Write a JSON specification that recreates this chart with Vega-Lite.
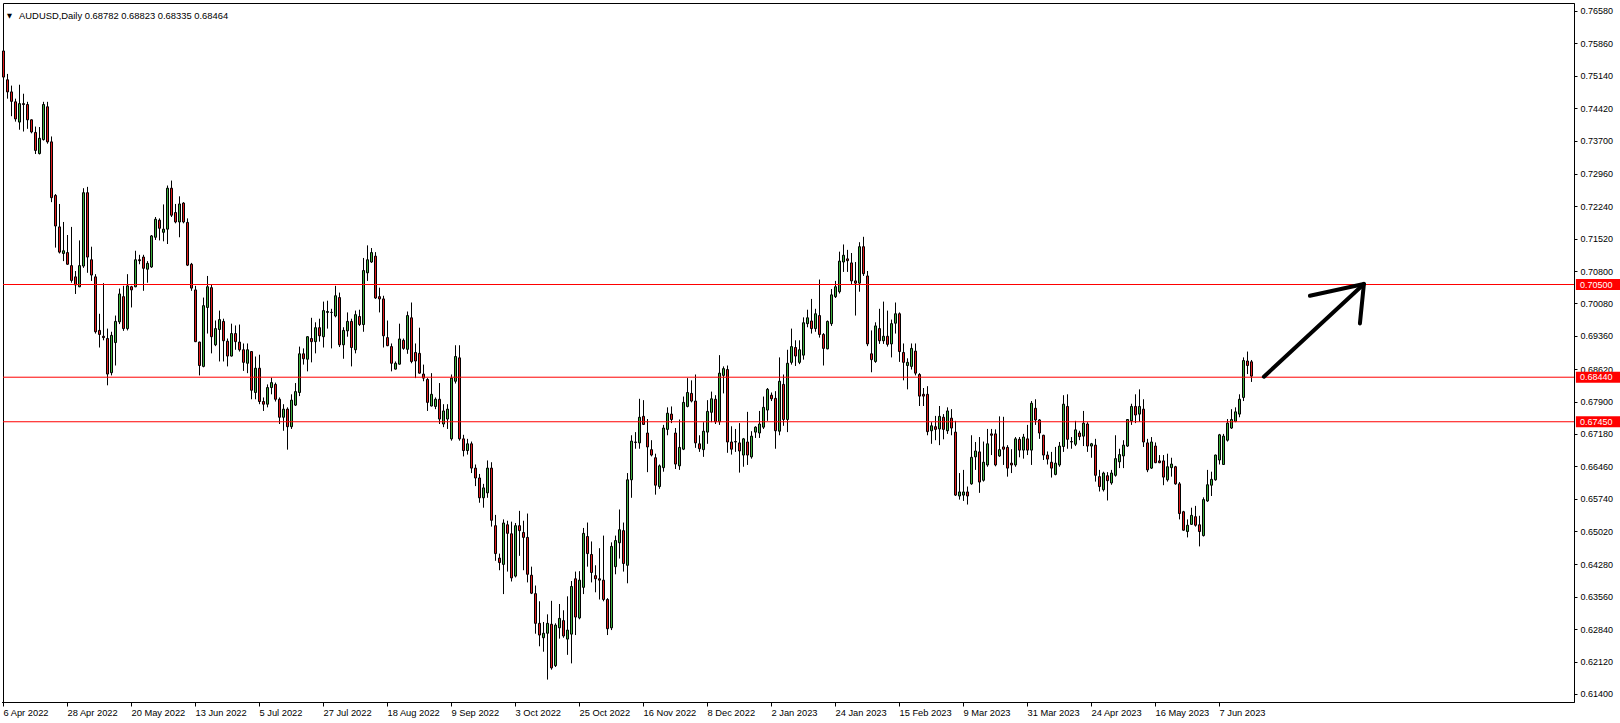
{
"$schema": "https://vega.github.io/schema/vega-lite/v6.json",
"width": 1571,
"height": 699,
"autosize": {"type": "none"},
"padding": {"left": 3, "top": 3, "right": 46, "bottom": 21},
"background": "white",
"config": {"view": {"stroke": "black", "strokeWidth": 1}, "font": "Liberation Sans", "axis": {"labelOverlap": false}, "axisY": {"labelOverlap": false, "labelFont": "Liberation Sans", "labelFontSize": 9, "labelColor": "black", "tickColor": "black", "domainColor": "black", "tickSize": 3, "labelPadding": 3, "grid": false, "labelBaseline": "middle", "labelFlush": false}},
"data": {"values": [
{"d":"2022-04-06","o":0.7569,"h":0.7592,"l":0.7485,"c":0.7511},
{"d":"2022-04-07","o":0.7505,"h":0.7518,"l":0.7463,"c":0.7478},
{"d":"2022-04-08","o":0.7478,"h":0.7492,"l":0.7424,"c":0.7457},
{"d":"2022-04-11","o":0.7456,"h":0.7463,"l":0.7412,"c":0.7418},
{"d":"2022-04-12","o":0.7411,"h":0.7494,"l":0.7394,"c":0.7452},
{"d":"2022-04-13","o":0.7452,"h":0.7474,"l":0.7390,"c":0.7450},
{"d":"2022-04-14","o":0.7450,"h":0.7456,"l":0.7396,"c":0.7416},
{"d":"2022-04-15","o":0.7416,"h":0.7417,"l":0.7386,"c":0.7389},
{"d":"2022-04-18","o":0.7388,"h":0.7401,"l":0.7340,"c":0.7348},
{"d":"2022-04-19","o":0.7341,"h":0.7400,"l":0.7339,"c":0.7375},
{"d":"2022-04-20","o":0.7372,"h":0.7456,"l":0.7370,"c":0.7450},
{"d":"2022-04-21","o":0.7445,"h":0.7456,"l":0.7363,"c":0.7367},
{"d":"2022-04-22","o":0.7367,"h":0.7379,"l":0.7233,"c":0.7243},
{"d":"2022-04-25","o":0.7248,"h":0.7251,"l":0.7132,"c":0.7180},
{"d":"2022-04-26","o":0.7178,"h":0.7229,"l":0.7119,"c":0.7122},
{"d":"2022-04-27","o":0.7119,"h":0.7189,"l":0.7102,"c":0.7125},
{"d":"2022-04-28","o":0.7121,"h":0.7160,"l":0.7094,"c":0.7095},
{"d":"2022-04-29","o":0.7092,"h":0.7178,"l":0.7054,"c":0.7059},
{"d":"2022-05-02","o":0.7067,"h":0.7080,"l":0.7029,"c":0.7049},
{"d":"2022-05-03","o":0.7045,"h":0.7148,"l":0.7044,"c":0.7092},
{"d":"2022-05-04","o":0.7091,"h":0.7264,"l":0.7087,"c":0.7254},
{"d":"2022-05-05","o":0.7254,"h":0.7267,"l":0.7076,"c":0.7111},
{"d":"2022-05-06","o":0.7105,"h":0.7134,"l":0.7058,"c":0.7071},
{"d":"2022-05-09","o":0.7067,"h":0.7073,"l":0.6941,"c":0.6945},
{"d":"2022-05-10","o":0.6948,"h":0.6985,"l":0.6910,"c":0.6939},
{"d":"2022-05-11","o":0.6935,"h":0.7053,"l":0.6926,"c":0.6932},
{"d":"2022-05-12","o":0.6930,"h":0.6952,"l":0.6826,"c":0.6851},
{"d":"2022-05-13","o":0.6854,"h":0.6945,"l":0.6848,"c":0.6937},
{"d":"2022-05-16","o":0.6921,"h":0.6981,"l":0.6870,"c":0.6968},
{"d":"2022-05-17","o":0.6967,"h":0.7041,"l":0.6962,"c":0.7029},
{"d":"2022-05-18","o":0.7023,"h":0.7047,"l":0.6947,"c":0.6952},
{"d":"2022-05-19","o":0.6952,"h":0.7073,"l":0.6948,"c":0.7047},
{"d":"2022-05-20","o":0.7045,"h":0.7047,"l":0.6999,"c":0.7038},
{"d":"2022-05-23","o":0.7045,"h":0.7125,"l":0.7044,"c":0.7105},
{"d":"2022-05-24","o":0.7105,"h":0.7116,"l":0.7095,"c":0.7103},
{"d":"2022-05-25","o":0.7111,"h":0.7116,"l":0.7036,"c":0.7086},
{"d":"2022-05-26","o":0.7084,"h":0.7102,"l":0.7054,"c":0.7097},
{"d":"2022-05-27","o":0.7089,"h":0.7160,"l":0.7087,"c":0.7158},
{"d":"2022-05-30","o":0.7155,"h":0.7200,"l":0.7149,"c":0.7195},
{"d":"2022-05-31","o":0.7193,"h":0.7197,"l":0.7148,"c":0.7175},
{"d":"2022-06-01","o":0.7166,"h":0.7228,"l":0.7146,"c":0.7173},
{"d":"2022-06-02","o":0.7173,"h":0.7270,"l":0.7140,"c":0.7264},
{"d":"2022-06-03","o":0.7264,"h":0.7281,"l":0.7200,"c":0.7204},
{"d":"2022-06-06","o":0.7210,"h":0.7229,"l":0.7186,"c":0.7189},
{"d":"2022-06-07","o":0.7189,"h":0.7246,"l":0.7155,"c":0.7229},
{"d":"2022-06-08","o":0.7231,"h":0.7233,"l":0.7186,"c":0.7189},
{"d":"2022-06-09","o":0.7188,"h":0.7197,"l":0.7091,"c":0.7093},
{"d":"2022-06-10","o":0.7095,"h":0.7098,"l":0.7036,"c":0.7042},
{"d":"2022-06-13","o":0.7038,"h":0.7047,"l":0.6922,"c":0.6923},
{"d":"2022-06-14","o":0.6922,"h":0.6923,"l":0.6848,"c":0.6870},
{"d":"2022-06-15","o":0.6868,"h":0.7021,"l":0.6866,"c":0.7003},
{"d":"2022-06-16","o":0.6999,"h":0.7069,"l":0.6941,"c":0.7045},
{"d":"2022-06-17","o":0.7043,"h":0.7051,"l":0.6897,"c":0.6934},
{"d":"2022-06-20","o":0.6916,"h":0.6970,"l":0.6913,"c":0.6952},
{"d":"2022-06-21","o":0.6950,"h":0.6992,"l":0.6879,"c":0.6972},
{"d":"2022-06-22","o":0.6968,"h":0.6974,"l":0.6879,"c":0.6925},
{"d":"2022-06-23","o":0.6924,"h":0.6930,"l":0.6868,"c":0.6891},
{"d":"2022-06-24","o":0.6891,"h":0.6963,"l":0.6890,"c":0.6941},
{"d":"2022-06-27","o":0.6941,"h":0.6959,"l":0.6905,"c":0.6923},
{"d":"2022-06-28","o":0.6922,"h":0.6961,"l":0.6901,"c":0.6905},
{"d":"2022-06-29","o":0.6905,"h":0.6919,"l":0.6858,"c":0.6877},
{"d":"2022-06-30","o":0.6875,"h":0.6919,"l":0.6853,"c":0.6905},
{"d":"2022-07-01","o":0.6901,"h":0.6902,"l":0.6795,"c":0.6815},
{"d":"2022-07-04","o":0.6810,"h":0.6890,"l":0.6795,"c":0.6864},
{"d":"2022-07-05","o":0.6864,"h":0.6894,"l":0.6784,"c":0.6790},
{"d":"2022-07-06","o":0.6790,"h":0.6799,"l":0.6769,"c":0.6784},
{"d":"2022-07-07","o":0.6784,"h":0.6828,"l":0.6777,"c":0.6821},
{"d":"2022-07-08","o":0.6821,"h":0.6843,"l":0.6806,"c":0.6832},
{"d":"2022-07-11","o":0.6828,"h":0.6832,"l":0.6790,"c":0.6795},
{"d":"2022-07-12","o":0.6795,"h":0.6799,"l":0.6740,"c":0.6755},
{"d":"2022-07-13","o":0.6755,"h":0.6784,"l":0.6725,"c":0.6773},
{"d":"2022-07-14","o":0.6773,"h":0.6777,"l":0.6683,"c":0.6734},
{"d":"2022-07-15","o":0.6734,"h":0.6806,"l":0.6729,"c":0.6793},
{"d":"2022-07-18","o":0.6782,"h":0.6831,"l":0.6780,"c":0.6812},
{"d":"2022-07-19","o":0.6810,"h":0.6912,"l":0.6802,"c":0.6896},
{"d":"2022-07-20","o":0.6896,"h":0.6908,"l":0.6872,"c":0.6885},
{"d":"2022-07-21","o":0.6884,"h":0.6935,"l":0.6857,"c":0.6934},
{"d":"2022-07-22","o":0.6930,"h":0.6976,"l":0.6877,"c":0.6923},
{"d":"2022-07-25","o":0.6923,"h":0.6966,"l":0.6897,"c":0.6954},
{"d":"2022-07-26","o":0.6954,"h":0.6974,"l":0.6923,"c":0.6936},
{"d":"2022-07-27","o":0.6934,"h":0.7012,"l":0.6910,"c":0.6992},
{"d":"2022-07-28","o":0.6988,"h":0.7014,"l":0.6952,"c":0.6990},
{"d":"2022-07-29","o":0.6988,"h":0.6996,"l":0.6908,"c":0.6988},
{"d":"2022-08-01","o":0.6980,"h":0.7047,"l":0.6977,"c":0.7025},
{"d":"2022-08-02","o":0.7021,"h":0.7032,"l":0.6911,"c":0.6916},
{"d":"2022-08-03","o":0.6916,"h":0.6955,"l":0.6885,"c":0.6948},
{"d":"2022-08-04","o":0.6947,"h":0.6988,"l":0.6934,"c":0.6968},
{"d":"2022-08-05","o":0.6968,"h":0.6974,"l":0.6868,"c":0.6910},
{"d":"2022-08-08","o":0.6905,"h":0.6992,"l":0.6897,"c":0.6983},
{"d":"2022-08-09","o":0.6979,"h":0.6994,"l":0.6958,"c":0.6961},
{"d":"2022-08-10","o":0.6961,"h":0.7109,"l":0.6945,"c":0.7081},
{"d":"2022-08-11","o":0.7076,"h":0.7137,"l":0.7058,"c":0.7105},
{"d":"2022-08-12","o":0.7100,"h":0.7131,"l":0.7098,"c":0.7121},
{"d":"2022-08-15","o":0.7113,"h":0.7122,"l":0.7018,"c":0.7020},
{"d":"2022-08-16","o":0.7023,"h":0.7043,"l":0.6988,"c":0.7018},
{"d":"2022-08-17","o":0.7018,"h":0.7025,"l":0.6910,"c":0.6936},
{"d":"2022-08-18","o":0.6932,"h":0.6970,"l":0.6913,"c":0.6914},
{"d":"2022-08-19","o":0.6912,"h":0.6919,"l":0.6857,"c":0.6875},
{"d":"2022-08-22","o":0.6862,"h":0.6879,"l":0.6861,"c":0.6875},
{"d":"2022-08-23","o":0.6873,"h":0.6963,"l":0.6872,"c":0.6929},
{"d":"2022-08-24","o":0.6926,"h":0.6930,"l":0.6905,"c":0.6908},
{"d":"2022-08-25","o":0.6906,"h":0.6990,"l":0.6896,"c":0.6981},
{"d":"2022-08-26","o":0.6976,"h":0.7010,"l":0.6875,"c":0.6879},
{"d":"2022-08-29","o":0.6899,"h":0.6919,"l":0.6842,"c":0.6880},
{"d":"2022-08-30","o":0.6897,"h":0.6954,"l":0.6852,"c":0.6853},
{"d":"2022-08-31","o":0.6851,"h":0.6872,"l":0.6835,"c":0.6842},
{"d":"2022-09-01","o":0.6839,"h":0.6842,"l":0.6769,"c":0.6788},
{"d":"2022-09-02","o":0.6780,"h":0.6853,"l":0.6779,"c":0.6806},
{"d":"2022-09-05","o":0.6779,"h":0.6799,"l":0.6773,"c":0.6795},
{"d":"2022-09-06","o":0.6795,"h":0.6831,"l":0.6740,"c":0.6751},
{"d":"2022-09-07","o":0.6740,"h":0.6784,"l":0.6733,"c":0.6769},
{"d":"2022-09-08","o":0.6751,"h":0.6784,"l":0.6729,"c":0.6773},
{"d":"2022-09-09","o":0.6707,"h":0.6850,"l":0.6703,"c":0.6842},
{"d":"2022-09-12","o":0.6835,"h":0.6915,"l":0.6830,"c":0.6890},
{"d":"2022-09-13","o":0.6887,"h":0.6915,"l":0.6703,"c":0.6707},
{"d":"2022-09-14","o":0.6707,"h":0.6716,"l":0.6668,"c":0.6681},
{"d":"2022-09-15","o":0.6681,"h":0.6707,"l":0.6672,"c":0.6696},
{"d":"2022-09-16","o":0.6696,"h":0.6701,"l":0.6631,"c":0.6642},
{"d":"2022-09-19","o":0.6642,"h":0.6650,"l":0.6602,"c":0.6620},
{"d":"2022-09-20","o":0.6620,"h":0.6629,"l":0.6565,"c":0.6576},
{"d":"2022-09-21","o":0.6576,"h":0.6607,"l":0.6554,"c":0.6598},
{"d":"2022-09-22","o":0.6587,"h":0.6659,"l":0.6576,"c":0.6642},
{"d":"2022-09-23","o":0.6642,"h":0.6655,"l":0.6512,"c":0.6526},
{"d":"2022-09-26","o":0.6514,"h":0.6538,"l":0.6436,"c":0.6452},
{"d":"2022-09-27","o":0.6442,"h":0.6452,"l":0.6415,"c":0.6432},
{"d":"2022-09-28","o":0.6428,"h":0.6528,"l":0.6362,"c":0.6520},
{"d":"2022-09-29","o":0.6516,"h":0.6525,"l":0.6412,"c":0.6497},
{"d":"2022-09-30","o":0.6496,"h":0.6523,"l":0.6390,"c":0.6398},
{"d":"2022-10-03","o":0.6402,"h":0.6520,"l":0.6399,"c":0.6514},
{"d":"2022-10-04","o":0.6514,"h":0.6547,"l":0.6447,"c":0.6503},
{"d":"2022-10-05","o":0.6499,"h":0.6525,"l":0.6415,"c":0.6488},
{"d":"2022-10-06","o":0.6488,"h":0.6541,"l":0.6388,"c":0.6406},
{"d":"2022-10-07","o":0.6404,"h":0.6423,"l":0.6362,"c":0.6364},
{"d":"2022-10-10","o":0.6363,"h":0.6381,"l":0.6274,"c":0.6297},
{"d":"2022-10-11","o":0.6297,"h":0.6346,"l":0.6246,"c":0.6271},
{"d":"2022-10-12","o":0.6265,"h":0.6300,"l":0.6234,"c":0.6275},
{"d":"2022-10-13","o":0.6275,"h":0.6317,"l":0.6172,"c":0.6297},
{"d":"2022-10-14","o":0.6295,"h":0.6347,"l":0.6194,"c":0.6198},
{"d":"2022-10-17","o":0.6203,"h":0.6297,"l":0.6200,"c":0.6293},
{"d":"2022-10-18","o":0.6287,"h":0.6340,"l":0.6263,"c":0.6308},
{"d":"2022-10-19","o":0.6303,"h":0.6326,"l":0.6265,"c":0.6269},
{"d":"2022-10-20","o":0.6262,"h":0.6357,"l":0.6227,"c":0.6282},
{"d":"2022-10-21","o":0.6273,"h":0.6391,"l":0.6208,"c":0.6379},
{"d":"2022-10-24","o":0.6396,"h":0.6412,"l":0.6271,"c":0.6311},
{"d":"2022-10-25","o":0.6309,"h":0.6413,"l":0.6306,"c":0.6393},
{"d":"2022-10-26","o":0.6377,"h":0.6509,"l":0.6362,"c":0.6497},
{"d":"2022-10-27","o":0.6490,"h":0.6521,"l":0.6423,"c":0.6452},
{"d":"2022-10-28","o":0.6450,"h":0.6479,"l":0.6388,"c":0.6410},
{"d":"2022-10-31","o":0.6403,"h":0.6426,"l":0.6366,"c":0.6396},
{"d":"2022-11-01","o":0.6396,"h":0.6464,"l":0.6350,"c":0.6393},
{"d":"2022-11-02","o":0.6393,"h":0.6492,"l":0.6346,"c":0.6350},
{"d":"2022-11-03","o":0.6350,"h":0.6353,"l":0.6271,"c":0.6285},
{"d":"2022-11-04","o":0.6287,"h":0.6477,"l":0.6282,"c":0.6468},
{"d":"2022-11-07","o":0.6423,"h":0.6492,"l":0.6406,"c":0.6481},
{"d":"2022-11-08","o":0.6476,"h":0.6550,"l":0.6441,"c":0.6505},
{"d":"2022-11-09","o":0.6503,"h":0.6521,"l":0.6412,"c":0.6430},
{"d":"2022-11-10","o":0.6426,"h":0.6631,"l":0.6386,"c":0.6616},
{"d":"2022-11-11","o":0.6616,"h":0.6715,"l":0.6576,"c":0.6702},
{"d":"2022-11-14","o":0.6700,"h":0.6722,"l":0.6685,"c":0.6699},
{"d":"2022-11-15","o":0.6698,"h":0.6796,"l":0.6685,"c":0.6755},
{"d":"2022-11-16","o":0.6757,"h":0.6793,"l":0.6738,"c":0.6739},
{"d":"2022-11-17","o":0.6720,"h":0.6751,"l":0.6633,"c":0.6689},
{"d":"2022-11-18","o":0.6683,"h":0.6704,"l":0.6668,"c":0.6671},
{"d":"2022-11-21","o":0.6665,"h":0.6674,"l":0.6583,"c":0.6604},
{"d":"2022-11-22","o":0.6601,"h":0.6650,"l":0.6596,"c":0.6647},
{"d":"2022-11-23","o":0.6643,"h":0.6738,"l":0.6634,"c":0.6731},
{"d":"2022-11-24","o":0.6728,"h":0.6777,"l":0.6715,"c":0.6764},
{"d":"2022-11-25","o":0.6762,"h":0.6779,"l":0.6742,"c":0.6750},
{"d":"2022-11-28","o":0.6720,"h":0.6731,"l":0.6640,"c":0.6651},
{"d":"2022-11-29","o":0.6647,"h":0.6750,"l":0.6638,"c":0.6688},
{"d":"2022-11-30","o":0.6684,"h":0.6801,"l":0.6682,"c":0.6788},
{"d":"2022-12-01","o":0.6779,"h":0.6842,"l":0.6777,"c":0.6810},
{"d":"2022-12-02","o":0.6808,"h":0.6837,"l":0.6788,"c":0.6791},
{"d":"2022-12-05","o":0.6791,"h":0.6850,"l":0.6687,"c":0.6698},
{"d":"2022-12-06","o":0.6696,"h":0.6715,"l":0.6678,"c":0.6685},
{"d":"2022-12-07","o":0.6683,"h":0.6744,"l":0.6667,"c":0.6724},
{"d":"2022-12-08","o":0.6722,"h":0.6793,"l":0.6696,"c":0.6768},
{"d":"2022-12-09","o":0.6766,"h":0.6812,"l":0.6744,"c":0.6796},
{"d":"2022-12-12","o":0.6795,"h":0.6804,"l":0.6740,"c":0.6745},
{"d":"2022-12-13","o":0.6745,"h":0.6893,"l":0.6738,"c":0.6853},
{"d":"2022-12-14","o":0.6848,"h":0.6868,"l":0.6808,"c":0.6863},
{"d":"2022-12-15","o":0.6861,"h":0.6870,"l":0.6676,"c":0.6700},
{"d":"2022-12-16","o":0.6700,"h":0.6735,"l":0.6672,"c":0.6684},
{"d":"2022-12-19","o":0.6701,"h":0.6729,"l":0.6678,"c":0.6700},
{"d":"2022-12-20","o":0.6698,"h":0.6742,"l":0.6632,"c":0.6680},
{"d":"2022-12-21","o":0.6671,"h":0.6709,"l":0.6645,"c":0.6707},
{"d":"2022-12-22","o":0.6700,"h":0.6767,"l":0.6649,"c":0.6671},
{"d":"2022-12-23","o":0.6667,"h":0.6724,"l":0.6663,"c":0.6713},
{"d":"2022-12-27","o":0.6722,"h":0.6735,"l":0.6709,"c":0.6733},
{"d":"2022-12-28","o":0.6720,"h":0.6769,"l":0.6709,"c":0.6740},
{"d":"2022-12-29","o":0.6733,"h":0.6801,"l":0.6729,"c":0.6777},
{"d":"2022-12-30","o":0.6771,"h":0.6820,"l":0.6747,"c":0.6817},
{"d":"2023-01-02","o":0.6804,"h":0.6810,"l":0.6791,"c":0.6796},
{"d":"2023-01-03","o":0.6797,"h":0.6813,"l":0.6685,"c":0.6725},
{"d":"2023-01-04","o":0.6724,"h":0.6888,"l":0.6715,"c":0.6835},
{"d":"2023-01-05","o":0.6828,"h":0.6850,"l":0.6736,"c":0.6750},
{"d":"2023-01-06","o":0.6750,"h":0.6905,"l":0.6722,"c":0.6875},
{"d":"2023-01-09","o":0.6877,"h":0.6952,"l":0.6872,"c":0.6912},
{"d":"2023-01-10","o":0.6910,"h":0.6926,"l":0.6869,"c":0.6891},
{"d":"2023-01-11","o":0.6877,"h":0.6926,"l":0.6873,"c":0.6905},
{"d":"2023-01-12","o":0.6893,"h":0.6977,"l":0.6883,"c":0.6965},
{"d":"2023-01-13","o":0.6963,"h":0.6994,"l":0.6955,"c":0.6976},
{"d":"2023-01-16","o":0.6969,"h":0.7018,"l":0.6941,"c":0.6952},
{"d":"2023-01-17","o":0.6952,"h":0.6996,"l":0.6945,"c":0.6985},
{"d":"2023-01-18","o":0.6981,"h":0.7061,"l":0.6932,"c":0.6939},
{"d":"2023-01-19","o":0.6939,"h":0.6942,"l":0.6870,"c":0.6908},
{"d":"2023-01-20","o":0.6907,"h":0.6970,"l":0.6906,"c":0.6968},
{"d":"2023-01-23","o":0.6963,"h":0.7040,"l":0.6958,"c":0.7027},
{"d":"2023-01-24","o":0.7023,"h":0.7058,"l":0.7020,"c":0.7045},
{"d":"2023-01-25","o":0.7034,"h":0.7123,"l":0.7030,"c":0.7102},
{"d":"2023-01-26","o":0.7100,"h":0.7139,"l":0.7078,"c":0.7115},
{"d":"2023-01-27","o":0.7107,"h":0.7127,"l":0.7078,"c":0.7103},
{"d":"2023-01-30","o":0.7098,"h":0.7120,"l":0.7049,"c":0.7058},
{"d":"2023-01-31","o":0.7058,"h":0.7100,"l":0.6981,"c":0.7053},
{"d":"2023-02-01","o":0.7053,"h":0.7144,"l":0.7034,"c":0.7134},
{"d":"2023-02-02","o":0.7134,"h":0.7156,"l":0.7069,"c":0.7074},
{"d":"2023-02-03","o":0.7069,"h":0.7080,"l":0.6913,"c":0.6918},
{"d":"2023-02-06","o":0.6896,"h":0.6948,"l":0.6855,"c":0.6883},
{"d":"2023-02-07","o":0.6879,"h":0.6966,"l":0.6876,"c":0.6958},
{"d":"2023-02-08","o":0.6952,"h":0.6996,"l":0.6918,"c":0.6925},
{"d":"2023-02-09","o":0.6925,"h":0.7012,"l":0.6918,"c":0.6935},
{"d":"2023-02-10","o":0.6935,"h":0.6992,"l":0.6912,"c":0.6917},
{"d":"2023-02-13","o":0.6918,"h":0.6972,"l":0.6888,"c":0.6963},
{"d":"2023-02-14","o":0.6964,"h":0.7010,"l":0.6941,"c":0.6985},
{"d":"2023-02-15","o":0.6985,"h":0.6988,"l":0.6878,"c":0.6901},
{"d":"2023-02-16","o":0.6899,"h":0.6919,"l":0.6837,"c":0.6877},
{"d":"2023-02-17","o":0.6870,"h":0.6886,"l":0.6817,"c":0.6877},
{"d":"2023-02-20","o":0.6868,"h":0.6919,"l":0.6861,"c":0.6908},
{"d":"2023-02-21","o":0.6902,"h":0.6919,"l":0.6848,"c":0.6853},
{"d":"2023-02-22","o":0.6850,"h":0.6853,"l":0.6780,"c":0.6802},
{"d":"2023-02-23","o":0.6806,"h":0.6820,"l":0.6780,"c":0.6802},
{"d":"2023-02-24","o":0.6806,"h":0.6824,"l":0.6715,"c":0.6723},
{"d":"2023-02-27","o":0.6725,"h":0.6744,"l":0.6696,"c":0.6736},
{"d":"2023-02-28","o":0.6734,"h":0.6758,"l":0.6704,"c":0.6728},
{"d":"2023-03-01","o":0.6729,"h":0.6780,"l":0.6693,"c":0.6757},
{"d":"2023-03-02","o":0.6755,"h":0.6762,"l":0.6706,"c":0.6728},
{"d":"2023-03-03","o":0.6725,"h":0.6777,"l":0.6718,"c":0.6769},
{"d":"2023-03-06","o":0.6753,"h":0.6773,"l":0.6715,"c":0.6731},
{"d":"2023-03-07","o":0.6722,"h":0.6747,"l":0.6580,"c":0.6582},
{"d":"2023-03-08","o":0.6580,"h":0.6631,"l":0.6572,"c":0.6589},
{"d":"2023-03-09","o":0.6582,"h":0.6638,"l":0.6569,"c":0.6589},
{"d":"2023-03-10","o":0.6589,"h":0.6601,"l":0.6561,"c":0.6580},
{"d":"2023-03-13","o":0.6607,"h":0.6715,"l":0.6605,"c":0.6666},
{"d":"2023-03-14","o":0.6667,"h":0.6700,"l":0.6638,"c":0.6680},
{"d":"2023-03-15","o":0.6678,"h":0.6711,"l":0.6587,"c":0.6611},
{"d":"2023-03-16","o":0.6615,"h":0.6701,"l":0.6612,"c":0.6655},
{"d":"2023-03-17","o":0.6649,"h":0.6729,"l":0.6645,"c":0.6696},
{"d":"2023-03-20","o":0.6718,"h":0.6729,"l":0.6671,"c":0.6715},
{"d":"2023-03-21","o":0.6718,"h":0.6728,"l":0.6646,"c":0.6649},
{"d":"2023-03-22","o":0.6669,"h":0.6757,"l":0.6667,"c":0.6683},
{"d":"2023-03-23","o":0.6689,"h":0.6756,"l":0.6649,"c":0.6684},
{"d":"2023-03-24","o":0.6688,"h":0.6693,"l":0.6623,"c":0.6642},
{"d":"2023-03-27","o":0.6653,"h":0.6684,"l":0.6631,"c":0.6649},
{"d":"2023-03-28","o":0.6649,"h":0.6711,"l":0.6645,"c":0.6707},
{"d":"2023-03-29","o":0.6706,"h":0.6711,"l":0.6666,"c":0.6682},
{"d":"2023-03-30","o":0.6682,"h":0.6718,"l":0.6663,"c":0.6711},
{"d":"2023-03-31","o":0.6707,"h":0.6738,"l":0.6671,"c":0.6682},
{"d":"2023-04-03","o":0.6682,"h":0.6791,"l":0.6649,"c":0.6786},
{"d":"2023-04-04","o":0.6775,"h":0.6795,"l":0.6738,"c":0.6749},
{"d":"2023-04-05","o":0.6749,"h":0.6751,"l":0.6707,"c":0.6720},
{"d":"2023-04-06","o":0.6715,"h":0.6716,"l":0.6660,"c":0.6671},
{"d":"2023-04-07","o":0.6671,"h":0.6679,"l":0.6650,"c":0.6662},
{"d":"2023-04-10","o":0.6655,"h":0.6678,"l":0.6621,"c":0.6642},
{"d":"2023-04-11","o":0.6628,"h":0.6689,"l":0.6626,"c":0.6653},
{"d":"2023-04-12","o":0.6649,"h":0.6700,"l":0.6645,"c":0.6691},
{"d":"2023-04-13","o":0.6690,"h":0.6804,"l":0.6678,"c":0.6784},
{"d":"2023-04-14","o":0.6779,"h":0.6806,"l":0.6685,"c":0.6706},
{"d":"2023-04-17","o":0.6701,"h":0.6711,"l":0.6685,"c":0.6700},
{"d":"2023-04-18","o":0.6695,"h":0.6747,"l":0.6691,"c":0.6727},
{"d":"2023-04-19","o":0.6720,"h":0.6725,"l":0.6704,"c":0.6712},
{"d":"2023-04-20","o":0.6713,"h":0.6769,"l":0.6691,"c":0.6742},
{"d":"2023-04-21","o":0.6740,"h":0.6744,"l":0.6678,"c":0.6691},
{"d":"2023-04-24","o":0.6691,"h":0.6698,"l":0.6665,"c":0.6696},
{"d":"2023-04-25","o":0.6693,"h":0.6707,"l":0.6612,"c":0.6626},
{"d":"2023-04-26","o":0.6623,"h":0.6638,"l":0.6590,"c":0.6601},
{"d":"2023-04-27","o":0.6594,"h":0.6634,"l":0.6590,"c":0.6631},
{"d":"2023-04-28","o":0.6625,"h":0.6633,"l":0.6570,"c":0.6614},
{"d":"2023-05-01","o":0.6609,"h":0.6638,"l":0.6605,"c":0.6631},
{"d":"2023-05-02","o":0.6626,"h":0.6715,"l":0.6623,"c":0.6663},
{"d":"2023-05-03","o":0.6656,"h":0.6685,"l":0.6642,"c":0.6672},
{"d":"2023-05-04","o":0.6669,"h":0.6704,"l":0.6642,"c":0.6693},
{"d":"2023-05-05","o":0.6691,"h":0.6751,"l":0.6689,"c":0.6750},
{"d":"2023-05-08","o":0.6747,"h":0.6785,"l":0.6738,"c":0.6779},
{"d":"2023-05-09","o":0.6779,"h":0.6806,"l":0.6742,"c":0.6760},
{"d":"2023-05-10","o":0.6762,"h":0.6817,"l":0.6745,"c":0.6779},
{"d":"2023-05-11","o":0.6773,"h":0.6795,"l":0.6689,"c":0.6700},
{"d":"2023-05-12","o":0.6698,"h":0.6707,"l":0.6633,"c":0.6638},
{"d":"2023-05-15","o":0.6642,"h":0.6711,"l":0.6640,"c":0.6700},
{"d":"2023-05-16","o":0.6691,"h":0.6699,"l":0.6653,"c":0.6654},
{"d":"2023-05-17","o":0.6658,"h":0.6671,"l":0.6653,"c":0.6654},
{"d":"2023-05-18","o":0.6658,"h":0.6671,"l":0.6604,"c":0.6622},
{"d":"2023-05-19","o":0.6616,"h":0.6674,"l":0.6612,"c":0.6645},
{"d":"2023-05-22","o":0.6643,"h":0.6665,"l":0.6623,"c":0.6651},
{"d":"2023-05-23","o":0.6645,"h":0.6647,"l":0.6605,"c":0.6607},
{"d":"2023-05-24","o":0.6607,"h":0.6611,"l":0.6528,"c":0.6541},
{"d":"2023-05-25","o":0.6545,"h":0.6547,"l":0.6503,"c":0.6504},
{"d":"2023-05-26","o":0.6501,"h":0.6528,"l":0.6488,"c":0.6515},
{"d":"2023-05-29","o":0.6517,"h":0.6554,"l":0.6516,"c":0.6537},
{"d":"2023-05-30","o":0.6534,"h":0.6558,"l":0.6512,"c":0.6515},
{"d":"2023-05-31","o":0.6516,"h":0.6536,"l":0.6468,"c":0.6501},
{"d":"2023-06-01","o":0.6492,"h":0.6577,"l":0.6490,"c":0.6572},
{"d":"2023-06-02","o":0.6569,"h":0.6638,"l":0.6567,"c":0.6605},
{"d":"2023-06-05","o":0.6604,"h":0.6634,"l":0.6580,"c":0.6617},
{"d":"2023-06-06","o":0.6616,"h":0.6672,"l":0.6614,"c":0.6671},
{"d":"2023-06-07","o":0.6660,"h":0.6718,"l":0.6650,"c":0.6716},
{"d":"2023-06-08","o":0.6650,"h":0.6718,"l":0.6649,"c":0.6713},
{"d":"2023-06-09","o":0.6704,"h":0.6751,"l":0.6701,"c":0.6742},
{"d":"2023-06-12","o":0.6731,"h":0.6773,"l":0.6729,"c":0.6750},
{"d":"2023-06-13","o":0.6746,"h":0.6777,"l":0.6744,"c":0.6767},
{"d":"2023-06-14","o":0.6762,"h":0.6806,"l":0.6755,"c":0.6795},
{"d":"2023-06-15","o":0.6799,"h":0.6888,"l":0.6791,"c":0.6881},
{"d":"2023-06-16","o":0.6880,"h":0.6901,"l":0.6851,"c":0.6870},
{"d":"2023-06-19","o":0.68782,"h":0.68823,"l":0.68335,"c":0.68464}
]},
"layer": [
 {
  "encoding": {
   "x": {"field": "d", "type": "ordinal",
     "scale": {"type": "band", "paddingInner": 0, "paddingOuter": 0, "range": [-1.5, 1250.5]},
     "axis": {"orient": "bottom", "values": ["2022-04-06","2022-04-28","2022-05-20","2022-06-13","2022-07-05","2022-07-27","2022-08-18","2022-09-09","2022-10-03","2022-10-25","2022-11-16","2022-12-08","2023-01-02","2023-01-24","2023-02-15","2023-03-09","2023-03-31","2023-04-24","2023-05-16","2023-06-07"],
       "labelExpr": "utcFormat(toDate(datum.value), '%-d %b %Y')", "labelAngle": 0, "labelAlign": "left", "labelBaseline": "top", "labelPadding": 2, "tickSize": 4, "tickColor": "black", "domainColor": "black", "labelColor": "black", "labelFont": "Liberation Sans", "labelFontSize": 9.3, "title": null, "labelOverlap": false, "grid": false}}
  },
  "layer": [
   {"mark": {"type": "rule", "color": "black", "strokeWidth": 1},
    "encoding": {
     "y": {"field": "l", "type": "quantitative",
       "scale": {"domain": [0.61333, 0.76645], "nice": false, "zero": false},
       "axis": {"orient": "right", "values": [0.614,0.6212,0.6284,0.6356,0.6428,0.6502,0.6574,0.6646,0.6718,0.679,0.6862,0.6936,0.7008,0.708,0.7152,0.7224,0.7296,0.737,0.7442,0.7514,0.7586,0.7658], "format": ".5f", "title": null, "labelOverlap": false}},
     "y2": {"field": "h"}}},
   {"mark": {"type": "bar", "width": 2, "stroke": "black", "strokeWidth": 1},
    "encoding": {
     "y": {"field": "o", "type": "quantitative", "axis": {"orient": "right", "values": [0.614,0.6212,0.6284,0.6356,0.6428,0.6502,0.6574,0.6646,0.6718,0.679,0.6862,0.6936,0.7008,0.708,0.7152,0.7224,0.7296,0.737,0.7442,0.7514,0.7586,0.7658], "format": ".5f", "title": null, "labelOverlap": false}},
     "y2": {"field": "c"},
     "fill": {"condition": {"test": "datum.c >= datum.o", "value": "#3cae3c"}, "value": "#e01b1b"}}}
  ]
 },
 {
  "layer": [
   {"data": {"values": [{"lv": 0.705}, {"lv": 0.6844}, {"lv": 0.6745}]},
    "mark": {"type": "rule", "color": "#ff0000", "strokeWidth": 1},
    "encoding": {"y": {"field": "lv", "type": "quantitative", "axis": {"orient": "right", "values": [0.614,0.6212,0.6284,0.6356,0.6428,0.6502,0.6574,0.6646,0.6718,0.679,0.6862,0.6936,0.7008,0.708,0.7152,0.7224,0.7296,0.737,0.7442,0.7514,0.7586,0.7658], "format": ".5f", "title": null, "labelOverlap": false}}}},
   {"data": {"values": [{"lv": 0.705}, {"lv": 0.6844}, {"lv": 0.6745}]},
    "mark": {"type": "bar", "orient": "horizontal", "height": 11, "color": "#ff0000", "clip": false},
    "encoding": {
     "x": {"datum": 393.1, "type": "quantitative", "scale": {"domain": [-0.125, 392.625], "nice": false, "zero": false}, "axis": null},
     "x2": {"datum": 404.5},
     "y": {"field": "lv", "type": "quantitative", "axis": {"orient": "right", "values": [0.614,0.6212,0.6284,0.6356,0.6428,0.6502,0.6574,0.6646,0.6718,0.679,0.6862,0.6936,0.7008,0.708,0.7152,0.7224,0.7296,0.737,0.7442,0.7514,0.7586,0.7658], "format": ".5f", "title": null, "labelOverlap": false}}}},
   {"data": {"values": [{"lv": 0.705}, {"lv": 0.6844}, {"lv": 0.6745}]},
    "mark": {"type": "text", "align": "left", "baseline": "middle", "color": "white", "font": "Liberation Sans", "fontSize": 9, "clip": false},
    "encoding": {
     "x": {"datum": 394.1, "type": "quantitative", "scale": {"domain": [-0.125, 392.625], "nice": false, "zero": false}, "axis": null},
     "y": {"field": "lv", "type": "quantitative", "axis": {"orient": "right", "values": [0.614,0.6212,0.6284,0.6356,0.6428,0.6502,0.6574,0.6646,0.6718,0.679,0.6862,0.6936,0.7008,0.708,0.7152,0.7224,0.7296,0.737,0.7442,0.7514,0.7586,0.7658], "format": ".5f", "title": null, "labelOverlap": false}},
     "text": {"field": "lv", "type": "quantitative", "format": ".5f"}}},
   {"data": {"values": [
      {"seg": "shaft", "k": 0, "bar": 315.1, "p": 0.68452},
      {"seg": "shaft", "k": 1, "bar": 340.1, "p": 0.70512},
      {"seg": "head", "k": 0, "bar": 326.6, "p": 0.70249},
      {"seg": "head", "k": 1, "bar": 340.1, "p": 0.70512},
      {"seg": "head", "k": 2, "bar": 339.1, "p": 0.69635}]},
    "mark": {"type": "line", "color": "black", "strokeWidth": 4, "strokeCap": "round", "strokeJoin": "round"},
    "encoding": {
     "x": {"field": "bar", "type": "quantitative", "scale": {"domain": [-0.125, 392.625], "nice": false, "zero": false}, "axis": null},
     "y": {"field": "p", "type": "quantitative", "axis": {"orient": "right", "values": [0.614,0.6212,0.6284,0.6356,0.6428,0.6502,0.6574,0.6646,0.6718,0.679,0.6862,0.6936,0.7008,0.708,0.7152,0.7224,0.7296,0.737,0.7442,0.7514,0.7586,0.7658], "format": ".5f", "title": null, "labelOverlap": false}},
     "detail": {"field": "seg"},
     "order": {"field": "k"}}},
   {"data": {"values": [{"sym": "AUDUSD", "tf": "Daily", "o": "0.68782", "h": "0.68823", "l": "0.68335", "c": "0.68464"}]},
    "layer": [
     {"mark": {"type": "text", "text": "▼", "align": "left", "baseline": "alphabetic", "color": "black", "font": "DejaVu Sans", "fontSize": 6.5, "clip": false},
      "encoding": {
       "x": {"datum": 0.85, "type": "quantitative", "scale": {"domain": [-0.125, 392.625], "nice": false, "zero": false}, "axis": null},
       "y": {"datum": 0.7642, "type": "quantitative", "axis": {"orient": "right", "values": [0.614,0.6212,0.6284,0.6356,0.6428,0.6502,0.6574,0.6646,0.6718,0.679,0.6862,0.6936,0.7008,0.708,0.7152,0.7224,0.7296,0.737,0.7442,0.7514,0.7586,0.7658], "format": ".5f", "title": null, "labelOverlap": false}}}},
     {"mark": {"type": "text", "align": "left", "baseline": "alphabetic", "color": "black", "font": "Liberation Sans", "fontSize": 9.4, "clip": false},
      "encoding": {
       "x": {"datum": 3.9, "type": "quantitative", "scale": {"domain": [-0.125, 392.625], "nice": false, "zero": false}, "axis": null},
       "y": {"datum": 0.76404, "type": "quantitative", "axis": {"orient": "right", "values": [0.614,0.6212,0.6284,0.6356,0.6428,0.6502,0.6574,0.6646,0.6718,0.679,0.6862,0.6936,0.7008,0.708,0.7152,0.7224,0.7296,0.737,0.7442,0.7514,0.7586,0.7658], "format": ".5f", "title": null, "labelOverlap": false}},
       "text": {"value": "AUDUSD,Daily  0.68782 0.68823 0.68335 0.68464"}}}
    ]}
  ]
 }
],
"resolve": {"scale": {"x": "independent"}, "axis": {"x": "independent"}}
}
